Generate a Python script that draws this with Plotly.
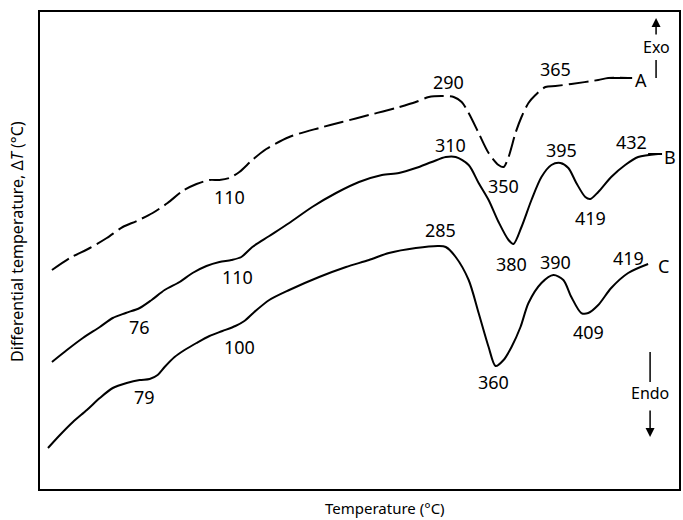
import plotly.graph_objects as go

# Curves: horizontal position (arbitrary temperature scale) and ΔT (arbitrary units, up = exo)
a_x = [52, 70, 90, 107, 123, 137, 153, 168, 183, 197, 210, 220, 230, 240, 253, 267, 290, 320, 343, 370, 397, 417, 430, 443, 455, 463, 470, 480, 490, 500, 505, 510, 517, 523, 530, 537, 547, 557, 573, 600, 610, 630]
a_y = [230, 242, 252, 262, 273, 279, 287, 297, 309, 316, 320, 320, 322, 328, 340, 351, 363, 372, 378, 385, 392, 398, 403, 404, 403, 398, 387, 367, 347, 335, 333, 343, 367, 383, 397, 405, 413, 414, 416, 420, 422, 422]

b_x = [52, 67, 83, 100, 113, 126, 140, 152, 165, 180, 193, 207, 220, 232, 242, 253, 270, 290, 313, 337, 360, 383, 400, 417, 433, 447, 457, 470, 480, 490, 500, 510, 515, 523, 533, 543, 553, 562, 570, 578, 587, 592, 600, 613, 627, 640, 660]
b_y = [138, 150, 162, 173, 182, 187, 192, 200, 210, 218, 227, 234, 238, 240, 243, 253, 264, 277, 293, 307, 318, 325, 327, 332, 338, 343, 343, 335, 317, 300, 278, 260, 256, 273, 300, 323, 335, 337, 332, 317, 303, 301, 308, 323, 335, 343, 346]

c_x = [48, 60, 73, 87, 100, 113, 127, 140, 150, 158, 165, 175, 185, 197, 210, 223, 236, 245, 255, 270, 290, 320, 347, 370, 390, 417, 440, 447, 457, 470, 480, 490, 497, 505, 513, 522, 530, 543, 555, 565, 573, 583, 590, 600, 613, 630, 650]
c_y = [52, 65, 78, 90, 102, 112, 117, 120, 121, 125, 133, 143, 150, 157, 164, 169, 174, 179, 188, 200, 210, 223, 233, 240, 247, 252, 254, 253, 243, 220, 187, 153, 134, 140, 153, 173, 197, 217, 225, 220, 203, 187, 187, 195, 212, 227, 236]

# Peak / curve labels
lab_text = ["110", "290", "365", "350", "A",
            "310", "395", "432", "419", "B", "110", "76", "380",
            "285", "390", "419", "409", "360", "100", "79", "C"]
lab_x = [230, 450, 557, 505, 643,
         452, 563, 633, 592, 672, 238, 140, 513,
         442, 557, 630, 590, 495, 240, 145, 665]
lab_y = [303, 418, 431, 314, 420,
         355, 350, 358, 282, 343, 223, 173, 236,
         270, 238, 242, 168, 118, 153, 103, 234]

fig = go.Figure()
fig.add_trace(go.Scatter(x=a_x, y=a_y, mode="lines", line=dict(color="black", width=2, dash="20px,6px", shape="spline", smoothing=0.8), showlegend=False))
fig.add_trace(go.Scatter(x=b_x, y=b_y, mode="lines", line=dict(color="black", width=2, shape="spline", smoothing=0.8), showlegend=False))
fig.add_trace(go.Scatter(x=c_x, y=c_y, mode="lines", line=dict(color="black", width=2, shape="spline", smoothing=0.8), showlegend=False))

FONT = "Noto Sans"
for t, x, y in zip(lab_text, lab_x, lab_y):
    fig.add_annotation(x=x, y=y, text=t, showarrow=False, font=dict(family=FONT, size=18, color="black"))

# short leader lines to curve letters
fig.add_shape(type="line", x0=612, y0=422, x1=634, y1=422, line=dict(color="black", width=2))
fig.add_shape(type="line", x0=650, y0=346, x1=664, y1=346, line=dict(color="black", width=2))

# Exo / Endo markers
fig.add_annotation(x=658, y=482, ax=0, ay=18, text="", showarrow=True, arrowhead=2, arrowsize=1.2, arrowwidth=1.5, arrowcolor="black")
fig.add_annotation(x=658, y=453, text="Exo", showarrow=False, font=dict(family=FONT, size=16, color="black"))
fig.add_shape(type="line", x0=658, y0=440, x1=658, y1=422, line=dict(color="black", width=1.5))
fig.add_shape(type="line", x0=652, y0=148, x1=652, y1=118, line=dict(color="black", width=1.5))
fig.add_annotation(x=652, y=107, text="Endo", showarrow=False, font=dict(family=FONT, size=16, color="black"))
fig.add_annotation(x=652, y=63, ax=0, ay=-28, text="", showarrow=True, arrowhead=2, arrowsize=1.2, arrowwidth=1.5, arrowcolor="black")

# Axis titles
fig.add_annotation(xref="paper", yref="paper", x=0.54, y=-0.04, yanchor="middle", text="Temperature (°C)", showarrow=False,
                   font=dict(family=FONT, size=15, color="black"))
fig.add_annotation(xref="paper", yref="paper", x=-0.036, xanchor="center", y=0.52, yanchor="middle", textangle=-90,
                   text="Differential temperature, Δ<i>T</i> (°C)", showarrow=False,
                   font=dict(family=FONT, size=16, color="black"))

fig.update_xaxes(range=[40, 681], showgrid=False, zeroline=False, showticklabels=False, ticks="",
                 showline=True, linecolor="black", linewidth=2, mirror=True)
fig.update_yaxes(range=[11, 488], showgrid=False, zeroline=False, showticklabels=False, ticks="",
                 showline=True, linecolor="black", linewidth=2, mirror=True)
fig.update_layout(width=683, height=520, margin=dict(l=40, r=2, t=12, b=31),
                  plot_bgcolor="white", paper_bgcolor="white")
fig.write_html("out.html")
